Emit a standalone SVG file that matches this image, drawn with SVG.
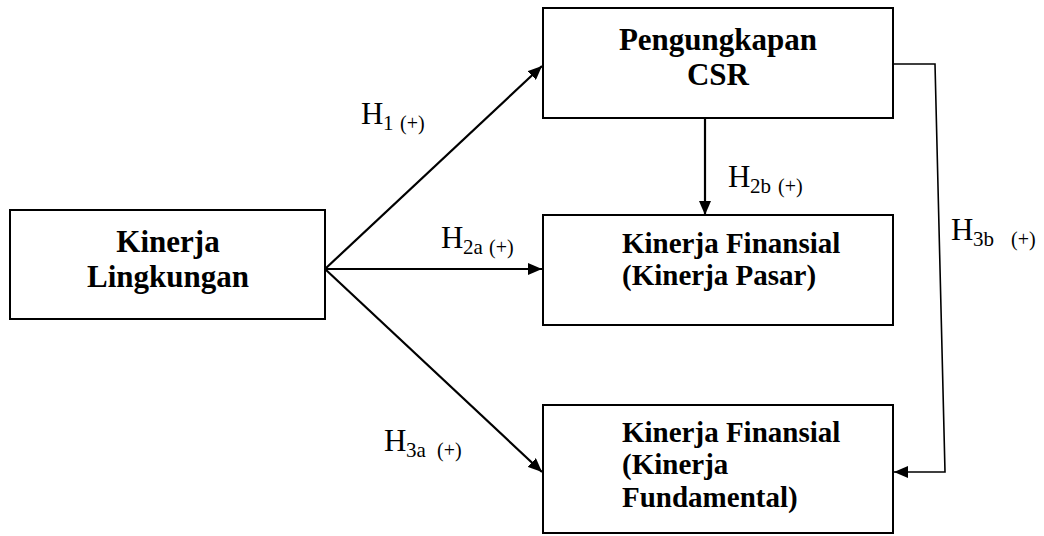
<svg xmlns="http://www.w3.org/2000/svg" width="1044" height="536" viewBox="0 0 1044 536">
<style>
.box{fill:#fff;stroke:#000;stroke-width:2}
.t{font-family:"Liberation Serif","Times New Roman",serif;font-weight:bold;fill:#000}
.t31{font-size:31px}
.t29{font-size:29px}
.lbl{font-family:"Liberation Serif","Times New Roman",serif;fill:#000}
.H{font-size:31px}
.s{font-size:21px}
.p{font-size:20px}
.ln{fill:none;stroke:#000;stroke-width:2.2}
.thin{fill:none;stroke:#000;stroke-width:1.6}
</style>
<defs>
<marker id="ah" viewBox="0 0 14 12" refX="14" refY="6" markerWidth="14" markerHeight="12" markerUnits="userSpaceOnUse" orient="auto">
<path d="M0,0 L14,6 L0,12 Z" fill="#000"/>
</marker>
</defs>
<rect width="1044" height="536" fill="#fff"/>
<g id="connectors">
<line class="ln" x1="325" y1="269" x2="542" y2="66" marker-end="url(#ah)"/>
<line class="ln" x1="325" y1="269" x2="542" y2="269" marker-end="url(#ah)"/>
<line class="ln" x1="325" y1="269" x2="542" y2="472" marker-end="url(#ah)"/>
<line class="ln" x1="705" y1="118" x2="705" y2="215" marker-end="url(#ah)"/>
<polyline class="thin" points="893,64 935,64 945,472 894,472" marker-end="url(#ah)"/>
</g>
<g id="node-lingkungan">
<rect class="box" x="10" y="210" width="315" height="109"/>
<text class="t t31" x="168" y="252" text-anchor="middle">Kinerja</text>
<text class="t t31" x="168" y="287" text-anchor="middle">Lingkungan</text>
</g>
<g id="node-csr">
<rect class="box" x="543" y="8" width="350" height="110"/>
<text class="t t31" x="718" y="50" text-anchor="middle">Pengungkapan</text>
<text class="t t31" x="718" y="85" text-anchor="middle">CSR</text>
</g>
<g id="node-pasar">
<rect class="box" x="543" y="215" width="350" height="110"/>
<text class="t t29" x="622" y="253">Kinerja Finansial</text>
<text class="t t29" x="622" y="285">(Kinerja Pasar)</text>
</g>
<g id="node-fundamental">
<rect class="box" x="543" y="405" width="350" height="128"/>
<text class="t t29" x="622" y="442">Kinerja Finansial</text>
<text class="t t29" x="622" y="474">(Kinerja</text>
<text class="t t29" x="622" y="507">Fundamental)</text>
</g>
<g id="labels">
<text class="lbl"><tspan class="H" x="361" y="124">H</tspan><tspan class="s" x="383" y="130">1</tspan><tspan class="p" x="400" y="130">(+)</tspan></text>
<text class="lbl"><tspan class="H" x="441" y="248">H</tspan><tspan class="s" x="463" y="254">2a</tspan><tspan class="p" x="489" y="254">(+)</tspan></text>
<text class="lbl"><tspan class="H" x="384" y="451">H</tspan><tspan class="s" x="406" y="457">3a</tspan><tspan class="p" x="437" y="457">(+)</tspan></text>
<text class="lbl"><tspan class="H" x="728" y="187">H</tspan><tspan class="s" x="750" y="193">2b</tspan><tspan class="p" x="778" y="193">(+)</tspan></text>
<text class="lbl"><tspan class="H" x="951" y="240">H</tspan><tspan class="s" x="973" y="246">3b</tspan><tspan class="p" x="1011" y="246">(+)</tspan></text>
</g>
</svg>
